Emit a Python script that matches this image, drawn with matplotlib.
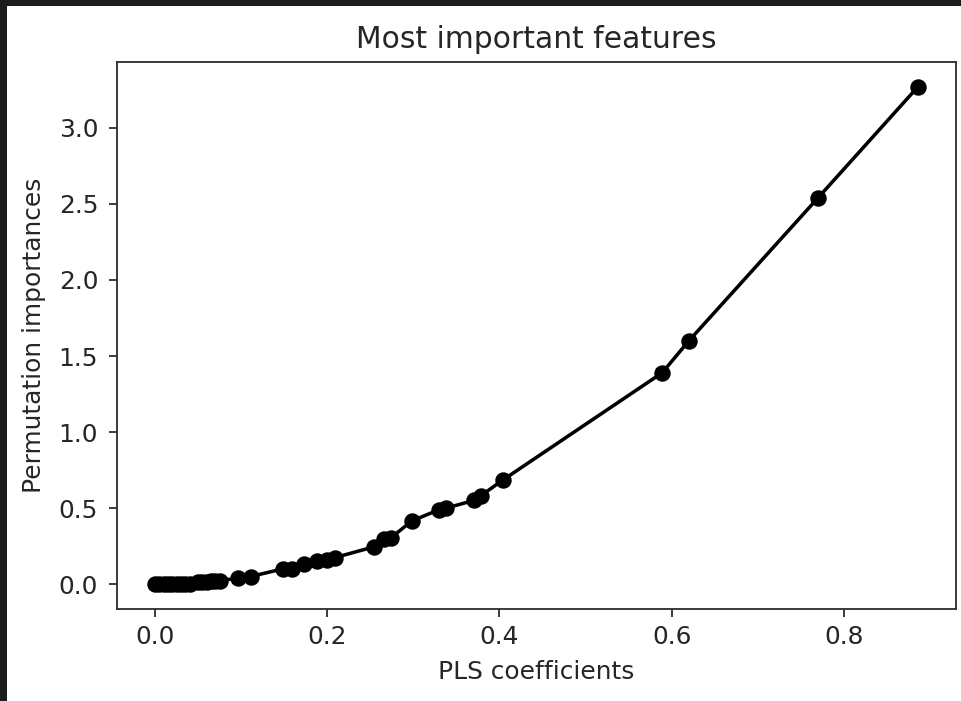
import matplotlib
matplotlib.use("Agg")
import matplotlib.pyplot as plt
from matplotlib.patches import Rectangle

# PLS coefficient magnitude vs. permutation importance, sorted by coefficient
pls_coefficients = [
    0.000, 0.005, 0.010, 0.015, 0.020, 0.025, 0.030, 0.035, 0.040,
    0.050, 0.055, 0.060, 0.065, 0.070, 0.075,
    0.096, 0.111, 0.148, 0.159, 0.173, 0.188, 0.200, 0.209,
    0.254, 0.266, 0.274, 0.298, 0.330, 0.338, 0.370, 0.378, 0.404,
    0.589, 0.620, 0.770, 0.886,
]
permutation_importances = [
    0.000, 0.000, 0.000, 0.001, 0.001, 0.002, 0.002, 0.003, 0.004,
    0.012, 0.014, 0.016, 0.018, 0.020, 0.022,
    0.040, 0.050, 0.100, 0.100, 0.135, 0.155, 0.160, 0.175,
    0.245, 0.295, 0.305, 0.415, 0.490, 0.500, 0.550, 0.580, 0.685,
    1.390, 1.600, 2.540, 3.270,
]

TEXT = "#262626"
plt.rcParams.update({
    "text.color": TEXT,
    "axes.labelcolor": TEXT,
    "xtick.labelcolor": TEXT,
    "ytick.labelcolor": TEXT,
    "axes.edgecolor": "#333333",
    "xtick.color": "#333333",
    "ytick.color": "#333333",
    "xtick.labelsize": 10.6,
    "ytick.labelsize": 10.6,
    "axes.labelsize": 10.6,
    "axes.titlesize": 12.7,
})

DPI = 169
fig = plt.figure(figsize=(961 / DPI, 701 / DPI), dpi=DPI)
ax = fig.add_axes([117 / 961, 1 - 609 / 701, (956 - 117) / 961, (609 - 62) / 701])

ax.plot(pls_coefficients, permutation_importances, "-o", color="black")
ax.set_title("Most important features")
ax.set_xlabel("PLS coefficients", labelpad=4.5)
ax.set_ylabel("Permutation importances", labelpad=5.5)
ax.tick_params(axis="y", pad=4.5)

# dark window frame along the top and left edges
fig.patches.append(Rectangle((0, 1 - 6 / 701), 1, 6 / 701, transform=fig.transFigure,
                             facecolor="#1c1c1c", edgecolor="none", zorder=10))
fig.patches.append(Rectangle((0, 0), 7 / 961, 1, transform=fig.transFigure,
                             facecolor="#1c1c1c", edgecolor="none", zorder=10))

fig.savefig("out.png", dpi=DPI)
